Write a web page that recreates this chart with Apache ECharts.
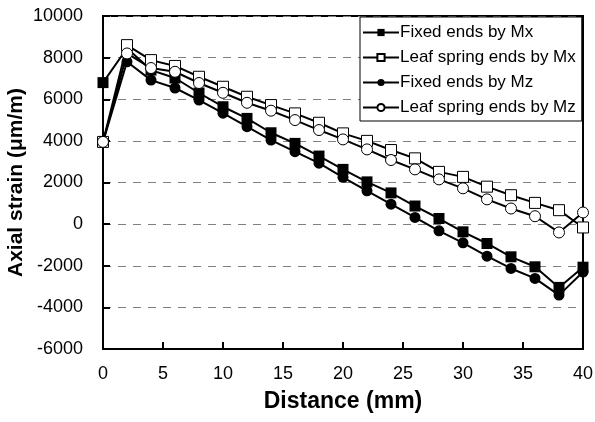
<!DOCTYPE html>
<html>
<head>
<meta charset="utf-8">
<script src="https://cdn.jsdelivr.net/npm/echarts@6/dist/echarts.min.js"></script>
<style>
  html, body { margin: 0; padding: 0; background: #fff; }
  #chart { width: 595px; height: 422px; }
</style>
</head>
<body>
<div id="chart"></div>
<script>
// distance along the beam (mm)
const distance = [0, 2, 4, 6, 8, 10, 12, 14, 16, 18, 20, 22, 24, 26, 28, 30, 32, 34, 36, 38, 40]

const fixedMx = [6800, 8450, 7400, 7020, 6300, 5640, 5080, 4390, 3880, 3270, 2630, 2030, 1500, 870, 270, -370, -930, -1570, -2050, -3040, -2070]
const leafMx = [3950, 8600, 7880, 7600, 7080, 6600, 6120, 5720, 5320, 4870, 4360, 4000, 3560, 3160, 2510, 2270, 1800, 1390, 1020, 670, -160]
const fixedMz = [3950, 7800, 6920, 6540, 5960, 5330, 4680, 4040, 3480, 2930, 2250, 1600, 960, 320, -320, -900, -1540, -2130, -2610, -3410, -2300]
const leafMz = [3950, 8200, 7500, 7320, 6780, 6310, 5830, 5450, 5000, 4520, 4070, 3590, 3080, 2630, 2150, 1720, 1190, 750, 380, -400, 560]

const seriesNames = ['Fixed ends by Mx', 'Leaf spring ends by Mx', 'Fixed ends by Mz', 'Leaf spring ends by Mz']

function pairs (ys) {
    return distance.map((x, i) => [x, ys[i]])
}

function makeSeries (name, ys, symbol, filled, size) {
    return {
        name: name,
        type: 'line',
        data: pairs(ys),
        symbol: symbol,
        symbolSize: size,
        showAllSymbol: true,
        lineStyle: { color: '#000', width: 2 },
        itemStyle: {
            color: filled ? '#000' : '#fff',
            borderColor: '#000',
            borderWidth: filled ? 0 : 1
        },
        emphasis: { disabled: true }
    }
}

const chart = echarts.init(document.getElementById('chart'), null, { renderer: 'canvas' })

chart.setOption({
    animation: false,
    textStyle: { fontFamily: 'Liberation Sans, Arial, sans-serif' },
    grid: {
        left: 103,
        right: 12,
        top: 16,
        bottom: 73,
        outerBoundsMode: 'none',
        containLabel: false,
        show: true,
        borderColor: '#000',
        borderWidth: 2,
        backgroundColor: 'transparent'
    },
    legend: {
        orient: 'vertical',
        left: 360,
        top: 17,
        padding: [7, 6, 5, 2],
        itemGap: 8,
        itemWidth: 36,
        itemHeight: 9,
        backgroundColor: '#fff',
        borderColor: '#000',
        borderWidth: 1,
        textStyle: { fontSize: 17, color: '#000', padding: [0, 0, 0, -4] },
        data: seriesNames
    },
    xAxis: {
        type: 'value',
        min: 0,
        max: 40,
        interval: 5,
        name: 'Distance (mm)',
        nameLocation: 'middle',
        nameGap: 41,
        nameMoveOverlap: false,
        nameTextStyle: { fontSize: 23, fontWeight: 'bold', color: '#000' },
        axisLine: { onZero: false, lineStyle: { color: '#000', width: 2 } },
        axisTick: { inside: true, length: 7, lineStyle: { color: '#000', width: 2 } },
        axisLabel: { fontSize: 18, color: '#000', margin: 16 },
        splitLine: { show: false }
    },
    yAxis: {
        type: 'value',
        min: -6000,
        max: 10000,
        interval: 2000,
        name: 'Axial strain (μm/m)',
        nameLocation: 'middle',
        nameGap: 76,
        nameMoveOverlap: false,
        nameTextStyle: { fontSize: 21, fontWeight: 'bold', color: '#000' },
        axisLine: { onZero: false, lineStyle: { color: '#000', width: 2 } },
        axisTick: { inside: true, length: 7, lineStyle: { color: '#000', width: 2 } },
        axisLabel: { fontSize: 18, color: '#000', margin: 20, formatter: v => String(v) },
        splitLine: { show: true, lineStyle: { color: '#808080', width: 1, type: [8, 7] } }
    },
    series: [
        makeSeries(seriesNames[0], fixedMx, 'rect', true, 11),
        makeSeries(seriesNames[1], leafMx, 'rect', false, 11),
        makeSeries(seriesNames[2], fixedMz, 'circle', true, 11),
        makeSeries(seriesNames[3], leafMz, 'circle', false, 11)
    ]
})
</script>
</body>
</html>
